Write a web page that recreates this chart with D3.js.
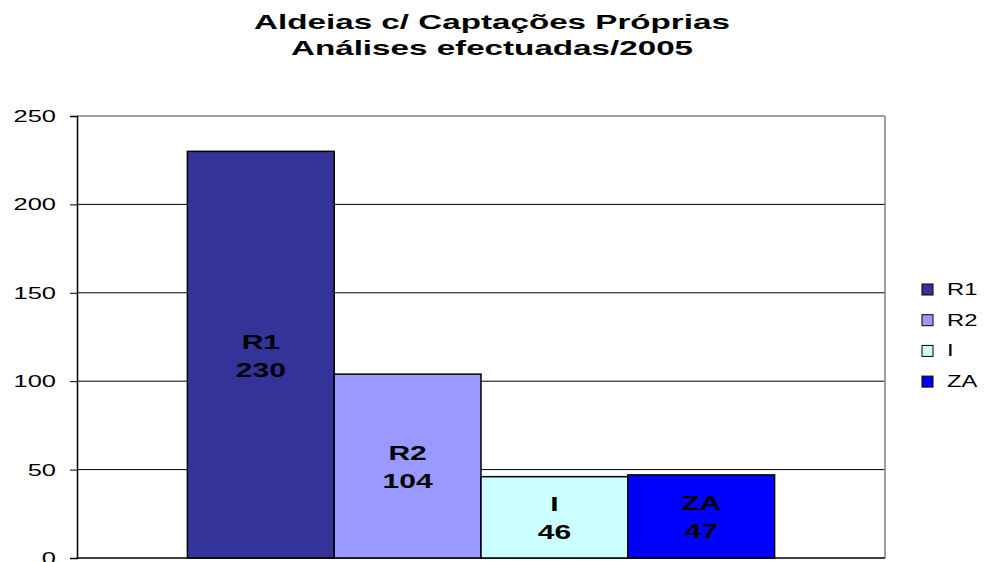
<!DOCTYPE html>
<html>
<head>
<meta charset="utf-8">
<script src="https://cdn.jsdelivr.net/npm/d3@7"></script>
<style>
  body { margin: 0; background: #fff; }
  text { font-family: "Liberation Sans", Arial, sans-serif; }
</style>
</head>
<body>
<div id="chart"></div>
<script>
// data
var titleLines = ["Aldeias c/ Captações Próprias", "Análises efectuadas/2005"];
var series = ["R1", "R2", "I", "ZA"];
var values = [230, 104, 46, 47];
var colors = ["#333399", "#9999FF", "#CCFFFF", "#0000FF"];
var yTicks = [0, 50, 100, 150, 200, 250];

var W = 987, H = 562;
var margin = { top: 116, right: 102, bottom: 4, left: 77 };
var width = W - margin.left - margin.right,
    height = H - margin.top - margin.bottom;

// the original text is drawn wide, so stretch glyphs horizontally
var stretch = 1.5;

var svg = d3.select("#chart").append("svg")
    .attr("width", W)
    .attr("height", H);

// title
svg.selectAll(".title")
    .data(titleLines)
    .enter().append("text")
    .attr("class", "title")
    .attr("transform", (d, i) => "translate(492," + (29 + i * 26) + ") scale(1.66,1)")
    .attr("text-anchor", "middle")
    .style("font-size", "20px")
    .style("font-weight", "bold")
    .text(d => d);

var g = svg.append("g")
    .attr("transform", "translate(" + margin.left + "," + margin.top + ")");

// scales
var x0 = d3.scaleBand()
    .domain(["2005"])
    .range([0, width])
    .paddingInner(0)
    .paddingOuter(0.188);

var x1 = d3.scaleBand()
    .domain(series)
    .range([0, x0.bandwidth()]);

var y = d3.scaleLinear()
    .domain([0, 250])
    .range([height, 0]);

// gridlines
g.selectAll(".grid")
    .data(yTicks.filter(d => d > 0 && d < 250))
    .enter().append("line")
    .attr("class", "grid")
    .attr("x1", 0).attr("x2", width)
    .attr("y1", d => y(d)).attr("y2", d => y(d))
    .attr("stroke", "#000")
    .attr("stroke-width", 1);

// plot frame (top & right grey)
g.append("line")
    .attr("x1", 0).attr("x2", width)
    .attr("y1", y(250)).attr("y2", y(250))
    .attr("stroke", "#808080").attr("stroke-width", 1.5);
g.append("line")
    .attr("x1", width).attr("x2", width)
    .attr("y1", 0).attr("y2", height)
    .attr("stroke", "#808080").attr("stroke-width", 1.5);

// y axis
var yAxis = d3.axisLeft(y)
    .tickValues(yTicks)
    .tickSize(7);

g.append("g")
    .attr("class", "y-axis")
    .call(yAxis)
    .call(a => a.select(".domain").attr("stroke", "#000").attr("stroke-width", 1.5))
    .call(a => a.selectAll("text")
        .attr("x", -21 / stretch)
        .attr("transform", "scale(" + stretch + ",1)")
        .style("font-size", "17px")
        .style("font-family", "'Liberation Sans', Arial, sans-serif")
        .attr("fill", "#000"));

// bottom axis line
g.append("line")
    .attr("x1", 0).attr("x2", width)
    .attr("y1", height).attr("y2", height)
    .attr("stroke", "#000").attr("stroke-width", 1.5);

// bars
var data = series.map((s, i) => ({ name: s, value: values[i], color: colors[i] }));

var bar = g.append("g")
    .attr("transform", "translate(" + x0("2005") + ",0)")
    .selectAll(".bar")
    .data(data)
    .enter();

bar.append("rect")
    .attr("class", "bar")
    .attr("x", d => x1(d.name))
    .attr("y", d => y(d.value))
    .attr("width", x1.bandwidth())
    .attr("height", d => height - y(d.value))
    .attr("fill", d => d.color)
    .attr("stroke", "#000")
    .attr("stroke-width", 1.5);

// labels inside bars
function labelPos(d, dy) {
    var cx = x1(d.name) + x1.bandwidth() / 2;
    var cy = (y(d.value) + height) / 2 + dy;
    return "translate(" + cx + "," + cy + ") scale(" + stretch + ",1)";
}

bar.append("text")
    .attr("transform", d => labelPos(d, -6))
    .attr("text-anchor", "middle")
    .style("font-size", "20px")
    .style("font-weight", "bold")
    .text(d => d.name);

bar.append("text")
    .attr("transform", d => labelPos(d, 22))
    .attr("text-anchor", "middle")
    .style("font-size", "20px")
    .style("font-weight", "bold")
    .text(d => d.value);

// legend
var legend = svg.append("g")
    .attr("transform", "translate(922,284)");

var item = legend.selectAll(".legend-item")
    .data(data)
    .enter().append("g")
    .attr("class", "legend-item")
    .attr("transform", (d, i) => "translate(0," + i * 30.7 + ")");

item.append("rect")
    .attr("width", 11)
    .attr("height", 11)
    .attr("fill", d => d.color)
    .attr("stroke", "#000")
    .attr("stroke-width", 1);

item.append("text")
    .attr("transform", "translate(25,11) scale(1.4,1)")
    .style("font-size", "17px")
    .text(d => d.name);
</script>
</body>
</html>
